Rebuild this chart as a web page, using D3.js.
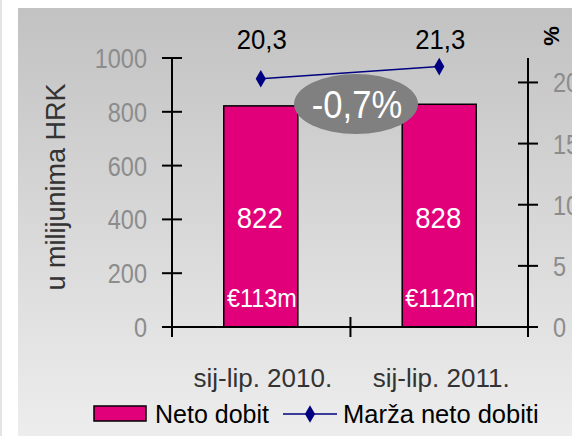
<!DOCTYPE html>
<html>
<head>
<meta charset="utf-8">
<script src="https://cdn.jsdelivr.net/npm/d3@7"></script>
<style>
  html, body { margin: 0; padding: 0; background: #fff; }
  svg { display: block; font-family: "Liberation Sans", Arial, sans-serif; }
</style>
</head>
<body>
<div id="chart"></div>
<script>
// chart data
var categories = ["sij-lip. 2010.", "sij-lip. 2011."];
var netProfit = [822, 828];
var profitMargin = [20.3, 21.3];
var eurLabels = ["€113m", "€112m"];
var leftTicks = [0, 200, 400, 600, 800, 1000];
var rightTicks = [0, 5, 10, 15, 20];
var changeLabel = "-0,7%";
var legendLabels = ["Neto dobit", "Marža neto dobiti"];

var W = 572, H = 436;
var MAGENTA = "#e2007a", NAVY = "#000080";

var svg = d3.select("#chart").append("svg")
    .attr("width", W)
    .attr("height", H);

var defs = svg.append("defs");
var grad = defs.append("linearGradient")
    .attr("id", "bg")
    .attr("x1", 0).attr("y1", 0).attr("x2", 0).attr("y2", 1);
grad.append("stop").attr("offset", "0%").attr("stop-color", "#c2c2c2");
grad.append("stop").attr("offset", "100%").attr("stop-color", "#ededed");

// the source font is a bit condensed, so texts get squeezed horizontally
function label(sel, cls, data, px, py, size, sx, anchor) {
    return sel.selectAll("text." + cls)
        .data(data)
        .enter().append("text")
        .attr("class", cls)
        .attr("transform", function(d, i) {
            return "translate(" + px(d, i) + "," + py(d, i) + ") scale(" + sx + ",1)";
        })
        .attr("text-anchor", anchor || "middle")
        .attr("font-size", size)
        .text(function(d) { return d; });
}

// left thin stripe + panel
svg.append("rect").attr("x", 0).attr("y", 0).attr("width", 2).attr("height", H).attr("fill", "#e4e4e4");
svg.append("rect")
    .attr("x", 18).attr("y", 8)
    .attr("width", W - 18).attr("height", H - 8)
    .attr("fill", "url(#bg)");

var x = d3.scaleBand()
    .domain(categories)
    .range([172, 528])
    .paddingInner(0.585)
    .paddingOuter(0.29);

var y = d3.scaleLinear().domain([0, 1000]).range([327, 58]);
var y2 = d3.scaleLinear().domain([0, 22]).range([327, 58]);

var xLeft = x.range()[0], xRight = x.range()[1];
var step = x.step();
var centers = categories.map(function(c) { return x(c) + x.bandwidth() / 2; });

// bars
var bars = svg.append("g").attr("id", "bars");
bars.selectAll("rect")
    .data(netProfit)
    .enter().append("rect")
    .attr("x", function(d, i) { return x(categories[i]); })
    .attr("y", function(d) { return y(d); })
    .attr("width", x.bandwidth())
    .attr("height", function(d) { return y(0) - y(d); })
    .attr("fill", MAGENTA)
    .attr("stroke", "#000")
    .attr("stroke-width", 1.5);

label(bars, "val", netProfit,
    function(d, i) { return centers[i] - 1; },
    function() { return 228; }, 29, 0.95)
    .attr("fill", "#fff");

label(bars, "eur", eurLabels,
    function(d, i) { return centers[i] + 1; },
    function() { return 307; }, 26, 0.9)
    .attr("fill", "#fff");

// axes
var axes = svg.append("g").attr("id", "axes")
    .attr("stroke", "#000").attr("stroke-width", 2);

axes.append("line")
    .attr("x1", xLeft).attr("x2", xLeft)
    .attr("y1", y(1000)).attr("y2", y(0) + 10);
axes.append("line")
    .attr("x1", xRight).attr("x2", xRight)
    .attr("y1", y2.range()[1]).attr("y2", y2(0) + 10);
axes.append("line")
    .attr("x1", xLeft - 10).attr("x2", xRight + 10)
    .attr("y1", y(0)).attr("y2", y(0));

axes.selectAll("line.lt")
    .data(leftTicks)
    .enter().append("line")
    .attr("class", "lt")
    .attr("x1", xLeft - 10).attr("x2", xLeft + 10)
    .attr("y1", function(d) { return y(d); })
    .attr("y2", function(d) { return y(d); });

axes.selectAll("line.rt")
    .data(rightTicks)
    .enter().append("line")
    .attr("class", "rt")
    .attr("x1", xRight - 10).attr("x2", xRight + 10)
    .attr("y1", function(d) { return y2(d); })
    .attr("y2", function(d) { return y2(d); });

// category separator tick
axes.append("line")
    .attr("x1", xLeft + step).attr("x2", xLeft + step)
    .attr("y1", y(0) - 10).attr("y2", y(0) + 10);

var labels = svg.append("g").attr("id", "labels");

label(labels, "lt", leftTicks,
    function() { return 147; },
    function(d) { return y(d) + 10; }, 28, 0.84, "end")
    .attr("fill", "#8c8c8c");

label(labels, "rt", rightTicks,
    function() { return 553; },
    function(d) { return y2(d) + 10; }, 28, 0.84, "start")
    .attr("fill", "#8c8c8c");

labels.append("text")
    .attr("transform", "translate(65,187) rotate(-90)")
    .attr("text-anchor", "middle")
    .attr("font-size", 27)
    .attr("fill", "#333")
    .text("u milijunima HRK");

labels.append("text")
    .attr("transform", "translate(559,36) rotate(-90)")
    .attr("text-anchor", "middle")
    .attr("font-size", 22)
    .attr("font-weight", "bold")
    .attr("fill", "#000")
    .text("%");

label(labels, "cat", categories,
    function(d, i) { return centers[i] + 2; },
    function() { return 387; }, 25, 1.04)
    .attr("fill", "#333");

// margin line
var line = d3.line()
    .x(function(d, i) { return centers[i]; })
    .y(function(d) { return y2(d); });

var lineG = svg.append("g").attr("id", "marginLine");
lineG.append("path")
    .datum(profitMargin)
    .attr("d", line)
    .attr("fill", "none")
    .attr("stroke", NAVY)
    .attr("stroke-width", 1.5);

var diamond = d3.symbol().type(d3.symbolDiamond).size(90);
lineG.selectAll("path.pt")
    .data(profitMargin)
    .enter().append("path")
    .attr("class", "pt")
    .attr("transform", function(d, i) { return "translate(" + centers[i] + "," + y2(d) + ")"; })
    .attr("d", diamond)
    .attr("fill", NAVY);

label(lineG, "mv", profitMargin.map(function(d) { return d3.format(".1f")(d).replace(".", ","); }),
    function(d, i) { return centers[i] + 1; },
    function() { return 49; }, 28, 0.92)
    .attr("fill", "#000");

// change bubble
var bubble = svg.append("g").attr("transform", "translate(356,104)");
bubble.append("ellipse")
    .attr("rx", 62).attr("ry", 30)
    .attr("fill", "#808080");
label(bubble, "chg", [changeLabel],
    function() { return 1; },
    function() { return 14; }, 38, 0.91)
    .attr("fill", "#fff");

// legend
var legend = svg.append("g").attr("id", "legend");
legend.append("rect")
    .attr("x", 94).attr("y", 406)
    .attr("width", 52).attr("height", 15)
    .attr("fill", MAGENTA)
    .attr("stroke", "#000")
    .attr("stroke-width", 1.5);
legend.append("text")
    .attr("x", 155).attr("y", 423)
    .attr("font-size", 25)
    .attr("fill", "#000")
    .text(legendLabels[0]);
legend.append("line")
    .attr("x1", 283).attr("x2", 337)
    .attr("y1", 414).attr("y2", 414)
    .attr("stroke", NAVY).attr("stroke-width", 1.5);
legend.append("path")
    .attr("transform", "translate(310,414)")
    .attr("d", diamond)
    .attr("fill", NAVY);
legend.append("text")
    .attr("x", 343).attr("y", 423)
    .attr("font-size", 25.5)
    .attr("fill", "#000")
    .text(legendLabels[1]);
</script>
</body>
</html>
